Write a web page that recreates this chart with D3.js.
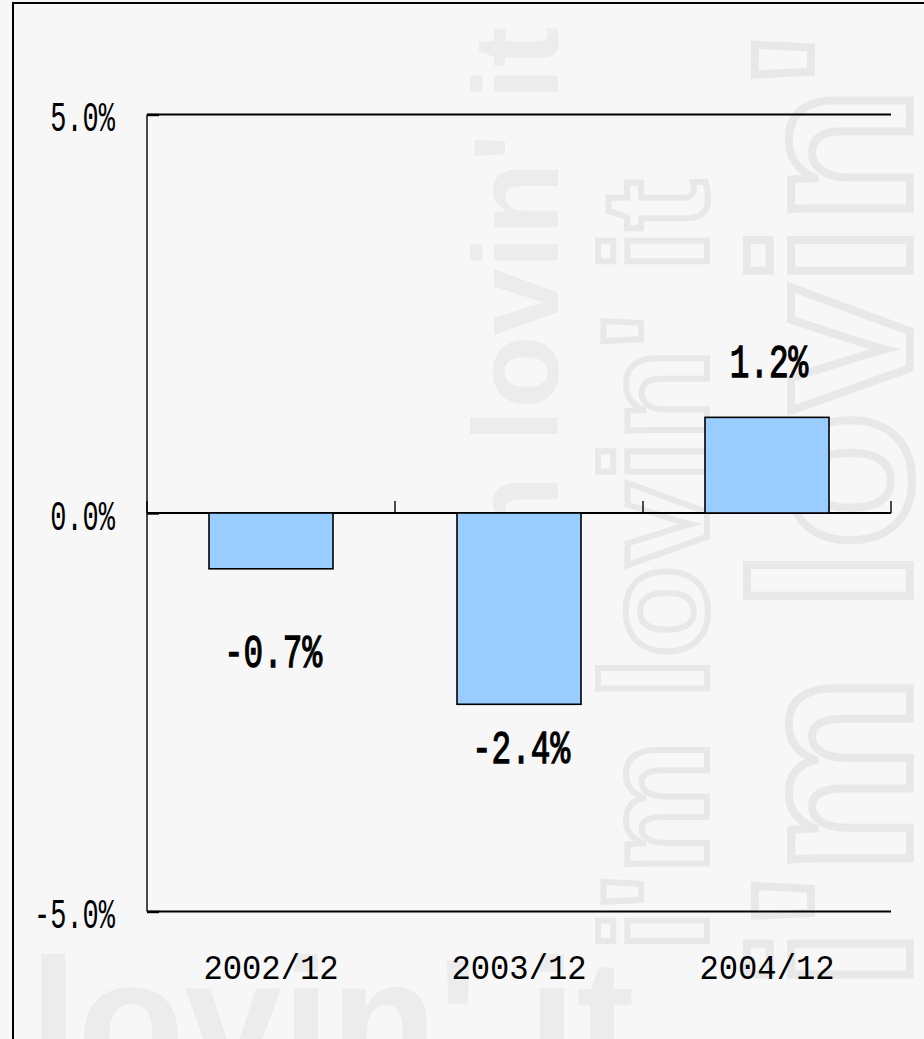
<!DOCTYPE html>
<html>
<head>
<meta charset="utf-8">
<script src="https://cdn.jsdelivr.net/npm/d3@7"></script>
<style>
  html, body { margin: 0; padding: 0; background: #f7f7f7; }
  svg { display: block; }
</style>
</head>
<body>
<div id="chart"></div>
<script>
// data
const categories = ["2002/12", "2003/12", "2004/12"];
const values     = [-0.7, -2.4, 1.2];
const yTicks     = [-5, 0, 5];

// layout: how far each value label baseline sits from its bar end (px)
const labelShift = [98, 59, -40];

const width  = 924;
const height = 1039;

const plot = { left: 147, right: 891, top: 114.5, bottom: 911.5 };

const svg = d3.select("#chart")
  .append("svg")
  .attr("width", width)
  .attr("height", height);

svg.append("rect")
  .attr("width", width)
  .attr("height", height)
  .attr("fill", "#f7f7f7");

// faint "i'm lovin' it" watermark behind the chart
const wm = svg.append("g").attr("font-family", "Liberation Sans, Arial, sans-serif")
  .attr("font-weight", "bold");

wm.append("text")
  .attr("transform", "translate(558,27) rotate(-90)")
  .attr("text-anchor", "end")
  .attr("font-size", 120)
  .attr("fill", "#ececec")
  .text("i'm lovin' it");

wm.append("text")
  .attr("transform", "translate(707,180) rotate(-90)")
  .attr("text-anchor", "end")
  .attr("font-size", 150)
  .attr("fill", "none")
  .attr("stroke", "#e8e8e8")
  .attr("stroke-width", 6)
  .text("i'm lovin' it");

wm.append("text")
  .attr("transform", "translate(910,33) rotate(-90)")
  .attr("text-anchor", "end")
  .attr("font-size", 225)
  .attr("fill", "none")
  .attr("stroke", "#e8e8e8")
  .attr("stroke-width", 8)
  .text("i'm lovin'");

wm.append("text")
  .attr("x", 29)
  .attr("y", 1081)
  .attr("font-size", 175)
  .attr("fill", "#ececec")
  .text("lovin' it");

// outer frame (right/bottom edges fall outside the picture)
svg.append("rect")
  .attr("x", 13)
  .attr("y", 3)
  .attr("width", 940)
  .attr("height", 1060)
  .attr("fill", "none")
  .attr("stroke", "#000")
  .attr("stroke-width", 2);

const x = d3.scaleBand()
  .domain(categories)
  .range([plot.left, plot.right])
  .paddingInner(0.5)
  .paddingOuter(0.25);

const y = d3.scaleLinear()
  .domain([-5, 5])
  .range([plot.bottom, plot.top]);

const g = svg.append("g");

// gridlines
g.selectAll("line.grid")
  .data(yTicks)
  .enter()
  .append("line")
  .attr("class", "grid")
  .attr("x1", plot.left)
  .attr("x2", plot.right)
  .attr("y1", d => y(d))
  .attr("y2", d => y(d))
  .attr("stroke", "#000")
  .attr("stroke-width", 1.8);

// bars
g.selectAll("rect.bar")
  .data(values)
  .enter()
  .append("rect")
  .attr("class", "bar")
  .attr("x", (d, i) => x(categories[i]))
  .attr("width", x.bandwidth())
  .attr("y", d => y(Math.max(0, d)))
  .attr("height", d => Math.abs(y(d) - y(0)))
  .attr("fill", "#99ccff")
  .attr("stroke", "#000")
  .attr("stroke-width", 1.6);

// y axis line + inside ticks
const yAxis = d3.axisRight(y)
  .tickValues(yTicks)
  .tickSize(12)
  .tickFormat("");

g.append("g")
  .attr("transform", `translate(${plot.left},0)`)
  .call(yAxis)
  .call(a => a.select(".domain").attr("d", `M0,${plot.top}V${plot.bottom}`).attr("stroke-width", 1.4))
  .call(a => a.selectAll(".tick line").attr("stroke-width", 2.4));

// category boundary ticks on the zero line
const bounds = d3.range(categories.length + 1).map(i => plot.left + i * x.step());

g.selectAll("line.ctick")
  .data(bounds)
  .enter()
  .append("line")
  .attr("class", "ctick")
  .attr("x1", d => d)
  .attr("x2", d => d)
  .attr("y1", y(0))
  .attr("y2", y(0) - 12)
  .attr("stroke", "#000")
  .attr("stroke-width", 1.4);

const mono = "Liberation Mono, DejaVu Sans Mono, monospace";

// y labels
g.selectAll("text.ylab")
  .data(yTicks)
  .enter()
  .append("text")
  .attr("class", "ylab")
  .attr("transform", d => `translate(115,${y(d) + 16.7}) scale(1,1.58)`)
  .attr("text-anchor", "end")
  .attr("font-family", mono)
  .attr("font-size", 27)
  .attr("fill", "#000")
  .text(d => d.toFixed(1) + "%");

// category labels
g.selectAll("text.xlab")
  .data(categories)
  .enter()
  .append("text")
  .attr("class", "xlab")
  .attr("transform", d => `translate(${x(d) + x.bandwidth() / 2},${plot.bottom + 67.5}) scale(1,1.1)`)
  .attr("text-anchor", "middle")
  .attr("font-family", mono)
  .attr("font-size", 32.2)
  .attr("fill", "#000")
  .text(d => d);

// value labels
g.selectAll("text.vlab")
  .data(values)
  .enter()
  .append("text")
  .attr("class", "vlab")
  .attr("transform", (d, i) => `translate(${x(categories[i]) + x.bandwidth() / 2 + 2},${y(d) + labelShift[i]}) scale(1,1.44)`)
  .attr("text-anchor", "middle")
  .attr("font-family", mono)
  .attr("font-size", 32.7)
  .attr("fill", "#000")
  .attr("stroke", "#000")
  .attr("stroke-width", 0.9)
  .text(d => d.toFixed(1) + "%");
</script>
</body>
</html>
